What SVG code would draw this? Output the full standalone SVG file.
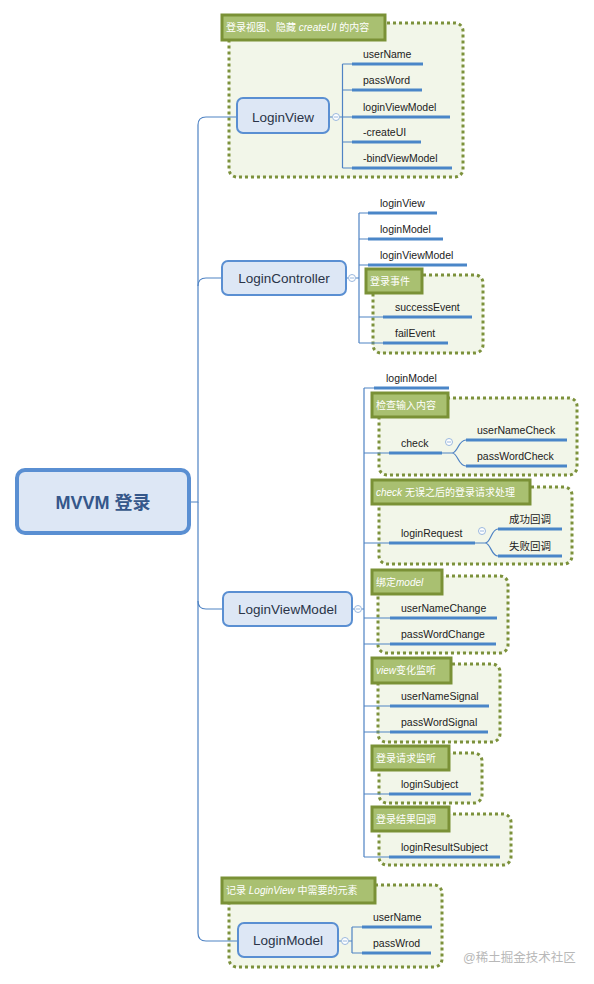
<svg xmlns="http://www.w3.org/2000/svg" width="594" height="984" viewBox="0 0 594 984">
<defs>
<style>
text{font-family:"Liberation Sans","Noto Sans CJK SC",sans-serif}
.conn{fill:none;stroke:#4f83c4;stroke-width:1.2}
.ul{stroke:#4a86c8;stroke-width:3}
.node rect{fill:#dde7f5;stroke:#5a8fd2;stroke-width:2}
.nt{font-size:13.5px;fill:#2a3448;text-anchor:middle}
.ct{font-size:10.5px;fill:#222}
.bnd{fill:#f2f6e9;stroke:#7c913b;stroke-width:3;stroke-dasharray:3 3}
.lbl{fill:#a9c071;stroke:#7a9136;stroke-width:3}
.lt{font-size:10px;fill:#fff}
.col{fill:#fff;stroke:#9ab8de;stroke-width:1}
.colm{stroke:#9ab8de;stroke-width:1}
</style>
</defs>
<rect width="594" height="984" fill="#fff"/>

<g id="boundaries">
<g id="b-loginview"><rect class="bnd" x="229" y="23" width="234" height="154" rx="8"/></g>
<g id="b-event"><rect class="bnd" x="373" y="275" width="110" height="78" rx="8"/></g>
<g id="b-check"><rect class="bnd" x="379" y="398" width="198" height="77" rx="8"/></g>
<g id="b-request"><rect class="bnd" x="379" y="487" width="193" height="77" rx="8"/></g>
<g id="b-model"><rect class="bnd" x="378" y="576" width="130" height="77" rx="8"/></g>
<g id="b-view"><rect class="bnd" x="378" y="664" width="122" height="78" rx="8"/></g>
<g id="b-reqlisten"><rect class="bnd" x="379" y="753" width="103" height="50" rx="8"/></g>
<g id="b-result"><rect class="bnd" x="379" y="814" width="132" height="51" rx="8"/></g>
<g id="b-loginmodel"><rect class="bnd" x="229" y="885" width="213" height="82" rx="8"/></g>
</g>

<g id="connectors">
<path class="conn" d="M189,502 H198 V125 Q198,117 206,117 H237"/>
<path class="conn" d="M198,502 V933 Q198,941 206,941 H238"/>
<path class="conn" d="M198,286 Q198,278 206,278 H222"/>
<path class="conn" d="M198,601 Q198,609 206,609 H223"/>
<path class="conn" d="M329,117 H332.5 M339.5,117 H342.5 M342.5,64 V168 M342.5,64 H352 M342.5,90 H352 M342.5,117 H352 M342.5,142 H352 M342.5,168 H352"/>
<path class="conn" d="M346,278 H348.5 M355.5,278 H359 M359,213 V343 M359,213 H368 M359,239 H368 M359,265 H368 M359,317 H383 M359,343 H383"/>
<path class="conn" d="M352,609 H354.5 M361.5,609 H364 M364,388 V857 M364,388 H374 M364,453 H389 M364,543 H389 M364,618 H390 M364,644 H390 M364,706 H390 M364,732 H390 M364,794 H389 M364,857 H389"/>
<path class="conn" d="M442,453 H452 C458,453 458,440 466,440 M452,453 C458,453 458,466 466,466"/>
<path class="conn" d="M475,543 H485 C491,543 491,529 498,529 M485,543 C491,543 491,556 498,556"/>
<path class="conn" d="M338,941 H341.5 M348.5,941 H352 M352,927 V953 M352,927 H362 M352,953 H362"/>
</g>

<g id="underlines">
<path class="ul" d="M352,64 H423 M352,90 H422 M352,117 H450 M352,142 H421 M352,168 H452"/>
<path class="ul" d="M368,213 H437 M368,239 H443 M368,265 H467 M383,317 H472 M383,343 H448"/>
<path class="ul" d="M374,388 H449 M389,453 H442 M466,440 H567 M466,466 H567 M389,543 H475 M498,529 H562 M498,556 H562 M390,618 H497 M390,644 H496 M390,706 H489 M390,732 H488 M389,794 H471 M389,857 H500"/>
<path class="ul" d="M362,927 H432 M362,953 H431"/>
</g>

<g id="root" class="node">
<rect x="17" y="470" width="172" height="63" rx="8" style="stroke-width:4"/>
<text x="103" y="509" style="font-size:18px;font-weight:bold;fill:#35578a;text-anchor:middle">MVVM 登录</text>
</g>

<g id="n-loginview" class="node">
<rect x="237" y="98" width="92" height="35" rx="6"/>
<text class="nt" x="283" y="121.5">LoginView</text>
<circle class="col" cx="336" cy="117" r="3.5"/><path class="colm" d="M334,117 H338"/>
</g>
<g id="n-logincontroller" class="node">
<rect x="222" y="261" width="124" height="34" rx="6"/>
<text class="nt" x="284" y="282.5">LoginController</text>
<circle class="col" cx="352" cy="278" r="3.5"/><path class="colm" d="M350,278 H354"/>
</g>
<g id="n-loginviewmodel" class="node">
<rect x="223" y="592" width="129" height="34" rx="6"/>
<text class="nt" x="287.5" y="613.5">LoginViewModel</text>
<circle class="col" cx="358" cy="609" r="3.5"/><path class="colm" d="M356,609 H360"/>
</g>
<g id="n-loginmodel" class="node">
<rect x="238" y="923" width="100" height="34" rx="6"/>
<text class="nt" x="288" y="944.5">LoginModel</text>
<circle class="col" cx="345" cy="941" r="3.5"/><path class="colm" d="M343,941 H347"/>
</g>

<g id="children">
<text class="ct" x="363" y="58">userName</text>
<text class="ct" x="363" y="84">passWord</text>
<text class="ct" x="363" y="111">loginViewModel</text>
<text class="ct" x="363" y="136">-createUI</text>
<text class="ct" x="363" y="162">-bindViewModel</text>

<text class="ct" x="380" y="207">loginView</text>
<text class="ct" x="380" y="233">loginModel</text>
<text class="ct" x="380" y="259">loginViewModel</text>
<text class="ct" x="395" y="311">successEvent</text>
<text class="ct" x="395" y="337">failEvent</text>

<text class="ct" x="386" y="382">loginModel</text>
<text class="ct" x="401" y="447">check</text>
<circle class="col" cx="449" cy="442" r="3.5"/><path class="colm" d="M447,442 H451"/>
<text class="ct" x="477" y="434">userNameCheck</text>
<text class="ct" x="477" y="460">passWordCheck</text>
<text class="ct" x="401" y="537">loginRequest</text>
<circle class="col" cx="482" cy="531" r="3.5"/><path class="colm" d="M480,531 H484"/>
<text class="ct" x="509" y="523">成功回调</text>
<text class="ct" x="509" y="550">失败回调</text>
<text class="ct" x="401" y="612">userNameChange</text>
<text class="ct" x="401" y="638">passWordChange</text>
<text class="ct" x="401" y="700">userNameSignal</text>
<text class="ct" x="401" y="726">passWordSignal</text>
<text class="ct" x="401" y="788">loginSubject</text>
<text class="ct" x="401" y="851">loginResultSubject</text>

<text class="ct" x="373" y="921">userName</text>
<text class="ct" x="373" y="947">passWrod</text>
</g>

<g id="labels">
<g><rect class="lbl" x="222" y="15" width="163" height="25"/><text class="lt" x="226" y="31">登录视图、隐藏 <tspan font-style="italic">createUI</tspan> 的内容</text></g>
<g><rect class="lbl" x="366" y="269" width="56" height="24"/><text class="lt" x="370" y="284.5">登录事件</text></g>
<g><rect class="lbl" x="372" y="393" width="76" height="24"/><text class="lt" x="376" y="408.5">检查输入内容</text></g>
<g><rect class="lbl" x="372" y="480" width="158" height="24"/><text class="lt" x="376" y="495.5"><tspan font-style="italic">check</tspan> 无误之后的登录请求处理</text></g>
<g><rect class="lbl" x="372" y="570" width="70" height="24"/><text class="lt" x="376" y="585.5">绑定<tspan font-style="italic">model</tspan></text></g>
<g><rect class="lbl" x="372" y="658" width="79" height="25"/><text class="lt" x="376" y="674"><tspan font-style="italic">view</tspan>变化监听</text></g>
<g><rect class="lbl" x="372" y="746" width="77" height="24"/><text class="lt" x="376" y="761.5">登录请求监听</text></g>
<g><rect class="lbl" x="372" y="807" width="77" height="24"/><text class="lt" x="376" y="822.5">登录结果回调</text></g>
<g><rect class="lbl" x="222" y="878" width="153" height="25"/><text class="lt" x="226" y="894">记录 <tspan font-style="italic">LoginView</tspan> 中需要的元素</text></g>
</g>

<text x="463" y="962" style="font-size:12.5px;fill:#b8b8b8">@稀土掘金技术社区</text>
</svg>
